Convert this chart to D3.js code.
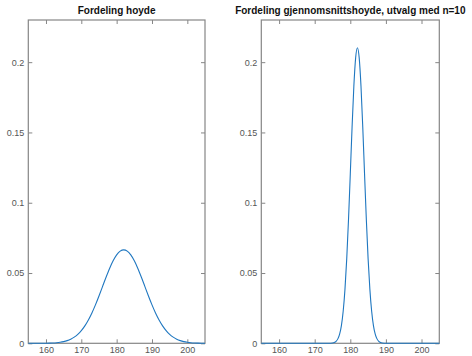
<!DOCTYPE html>
<html><head><meta charset="utf-8">
<script src="https://cdn.jsdelivr.net/npm/d3@7"></script>
<style>body{margin:0;background:#fff}svg{display:block}</style>
</head><body>
<svg id="c" width="472" height="356"></svg>
<script>
// ---- data ----
const titles = ["Fordeling hoyde", "Fordeling gjennomsnittshoyde, utvalg med n=10"];
const xTicks = [160, 170, 180, 190, 200];
const yTicks = [0, 0.05, 0.1, 0.15, 0.2];
const yTickLabels = ["0", "0.05", "0.1", "0.15", "0.2"];
const xDomain = [155, 205];
const yDomain = [0, 0.23];

// population height density (x = 155..205, step 1)
const xPop = d3.range(155, 206, 1);
const yPop = [0, 0.00001, 0.00001, 0.00002, 0.00004, 0.00008, 0.00015, 0.00026, 0.00044, 0.00074,
  0.00120, 0.00190, 0.00292, 0.00437, 0.00636, 0.00900, 0.01239, 0.01658, 0.02159, 0.02734,
  0.03367, 0.04033, 0.04698, 0.05324, 0.05868, 0.06290, 0.06557, 0.06649, 0.06557, 0.06290,
  0.05868, 0.05324, 0.04698, 0.04033, 0.03367, 0.02734, 0.02159, 0.01658, 0.01239, 0.00900,
  0.00636, 0.00437, 0.00292, 0.00190, 0.00120, 0.00074, 0.00044, 0.00026, 0.00015, 0.00008, 0.00004];

// sample mean density (n=10)
const xMean = [155, 160, 165, 170].concat(d3.range(173, 191.01, 0.5)).concat([195, 200, 205]);
const yMean = [0, 0, 0, 0,
  0, 0.00001, 0.00003, 0.00008, 0.00023, 0.00059, 0.00142, 0.00315, 0.00653, 0.01263,
  0.02279, 0.03836, 0.06024, 0.08827, 0.12064, 0.15384, 0.18300, 0.20309, 0.21027, 0.20309,
  0.18300, 0.15384, 0.12064, 0.08827, 0.06024, 0.03836, 0.02279, 0.01263, 0.00653, 0.00315,
  0.00142, 0.00059, 0.00023, 0.00008, 0.00003, 0.00001, 0,
  0, 0, 0];

const series = [
  xPop.map((x, i) => ({x, y: yPop[i]})),
  xMean.map((x, i) => ({x, y: yMean[i]}))
];

// ---- layout ----
const svg = d3.select("#c");
const panels = [{l: 28.3, r: 205}, {l: 261.3, r: 439.3}];
const topY = 20, bottomY = 343.3;
const axisColor = "#868686", textColor = "#555", lineColor = "#1f77c0";
const font = "'Liberation Sans', Arial, Helvetica, sans-serif";

panels.forEach((p, k) => {
  const x = d3.scaleLinear().domain(xDomain).range([p.l, p.r]);
  const y = d3.scaleLinear().domain(yDomain).range([bottomY, topY]);
  const g = svg.append("g");

  const tl = 4;
  const ax = g.append("g").attr("transform", `translate(0,${bottomY})`)
    .call(d3.axisBottom(x).tickValues(xTicks).tickSizeInner(-tl).tickSizeOuter(0).tickPadding(3));
  const axT = g.append("g").attr("transform", `translate(0,${topY})`)
    .call(d3.axisTop(x).tickValues(xTicks).tickSizeInner(-tl).tickSizeOuter(0).tickFormat(""));
  const ay = g.append("g").attr("transform", `translate(${p.l},0)`)
    .call(d3.axisLeft(y).tickValues(yTicks).tickFormat((d, i) => yTickLabels[i]).tickSizeInner(-tl).tickSizeOuter(0).tickPadding(4));
  const ayR = g.append("g").attr("transform", `translate(${p.r},0)`)
    .call(d3.axisRight(y).tickValues(yTicks).tickSizeInner(-tl).tickSizeOuter(0).tickFormat(""));
  [ax, axT, ay, ayR].forEach(a => {
    a.select(".domain").remove();
    a.selectAll("line").attr("stroke", axisColor);
    a.selectAll("text").attr("fill", textColor).style("font-family", font).style("font-size", "9px");
  });
  g.append("rect").attr("x", p.l).attr("y", topY).attr("width", p.r - p.l).attr("height", bottomY - topY)
    .attr("fill", "none").attr("stroke", axisColor).attr("stroke-width", 1.2);

  const line = d3.line().x(d => x(d.x)).y(d => y(d.y)).curve(d3.curveMonotoneX);
  g.append("path").datum(series[k]).attr("d", line)
    .attr("fill", "none").attr("stroke", lineColor).attr("stroke-width", 1.1);

  g.append("text").attr("x", (p.l + p.r) / 2).attr("y", 13.5).attr("text-anchor", "middle")
    .style("font-family", font).style("font-weight", "bold").style("font-size", "10px")
    .attr("fill", "#111").text(titles[k]);
});
</script>
</body></html>
